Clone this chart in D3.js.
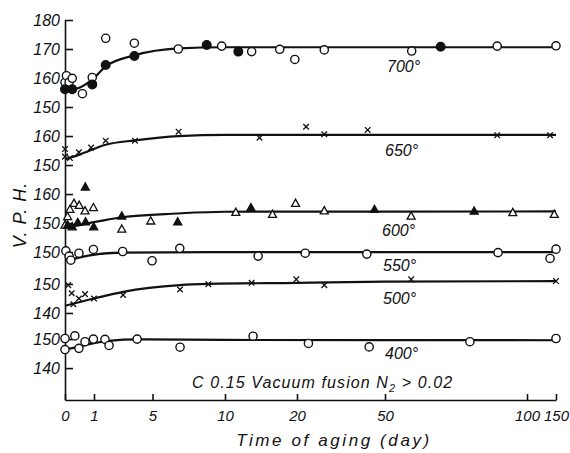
<!DOCTYPE html>
<html lang="en">
<head>
<meta charset="UTF-8">
<title>V.P.H. vs time of aging</title>
<style>
  body { margin: 0; background: #fff; }
  svg text { font-family: "Liberation Sans", Arial, sans-serif; font-style: italic; fill: #111; }
</style>
</head>
<body>
<script src="https://d3js.org/d3.v7.min.js"></script>
<script>
// x ticks (days) - axis is irregular in the original, so piecewise
let dayTicks = [0, 1, 5, 10, 20, 50, 100, 150];

// y tick labels per curve group and the shift that stacks each group
let groups = ["700°", "650°", "600°", "550°", "500°", "400°"];
let offsets = [0, -20, -40, -50, -61, -80];
let groupTicks = [[180, 170, 160, 150], [160, 150], [160, 150], [150], [150, 140], [150, 140]];

// measured points [day, V.P.H.]
let pts700open = [[0, 158.5], [0.05, 160.8], [0.14, 158.5], [0.25, 159.9], [0.6, 154.6], [0.94, 160.2],
  [1.8, 173.7], [3.76, 172], [6.78, 170], [9.77, 171], [13.7, 169.1], [17.6, 169.9], [19.7, 166.4],
  [29.3, 169.7], [59.4, 169.3], [89.5, 171], [150, 171.1]];
let pts700filled = [[0, 156.1], [0.25, 156.1], [0.94, 157.8], [1.8, 164.5], [3.76, 167.6], [8.74, 171.4], [11.85, 169.1], [69.6, 170.8]];
let pts650cross = [[0, 155.5], [0, 152.9], [0.17, 152.4], [0.48, 154.4], [0.9, 156], [1.8, 158.4], [3.8, 158.4],
  [6.8, 161.5], [14.8, 159.4], [23.1, 163.2], [29.3, 160.6], [44.1, 162.1], [89.5, 160.3], [139.7, 160.3]];
let pts600open = [[0, 149.3], [0.09, 152.2], [0.17, 154.7], [0.31, 156.8], [0.49, 156.1], [0.69, 154.2], [0.98, 155.3],
  [2.9, 147.9], [4.88, 150.7], [11.5, 153.7], [16.6, 153], [19.8, 156.8], [29.3, 154.2], [59.2, 152.4],
  [95, 153.6], [147, 153]];
let pts600filled = [[0.09, 149.3], [0.25, 148.7], [0.44, 150.2], [0.71, 150.4], [0.99, 148.7], [0.7, 162.4],
  [2.9, 152.4], [6.74, 150.4], [13.6, 155.3], [46.4, 154.7], [81.4, 154.1]];
let pts550open = [[0.03, 150.4], [0.14, 148.6], [0.2, 147.2], [0.48, 149.6], [0.98, 150.9], [2.96, 150.2],
  [4.97, 147], [6.88, 151.3], [14.6, 148.6], [22.8, 149.6], [43.8, 149.3], [89.8, 149.8], [150, 151], [139.7, 147.8]];
let pts500cross = [[0.11, 149.6], [0.23, 146.8], [0.29, 143], [0.48, 145], [0.69, 146.5], [1, 145], [2.99, 146.2],
  [6.9, 148.1], [8.85, 149.9], [13.7, 150.4], [19.9, 151.6], [29.3, 149.6], [59.2, 151.6], [150, 151]];
let pts400open = [[0, 150.2], [0.34, 151.1], [0, 146.4], [0.48, 146.8], [0.69, 149.1], [0.98, 150], [1.75, 149.9],
  [2.03, 147.8], [3.95, 150], [6.9, 147.2], [13.9, 151], [23.9, 148.5], [44.6, 147.3], [79.9, 149.1], [150, 150.2]];

// hand drawn trend curves [day, V.P.H.]
let curve700 = [[0, 156.6], [0.25, 156], [0.95, 159.5], [1.8, 164], [3.76, 167.8], [6.8, 170.2], [10, 170.6], [150, 170.6]];
let curve650 = [[0, 152], [0.5, 153.6], [1.8, 157], [3.8, 158.5], [6.8, 160], [10, 160.4], [150, 160.4]];
let curve600 = [[0, 149.9], [0.25, 149], [1, 150.3], [2.9, 152], [6.7, 153.3], [10, 153.9], [150, 154]];
let curve550 = [[0.12, 147.2], [0.8, 148.8], [2.9, 149.8], [9, 150], [150, 150]];
let curve500 = [[0, 142.5], [1, 145], [3, 147.3], [6.9, 149.6], [8.9, 150], [20, 150.4], [50, 150.8], [150, 151]];
let curve400 = [[0, 146.4], [0.5, 147.4], [1, 148.6], [2, 149.4], [4, 149.9], [10, 149.7], [150, 149.6]];

let svgWidth = 570;
let svgHeight = 453;

let svg = d3.select("body").append("svg")
  .attr("width", svgWidth)
  .attr("height", svgHeight);

let xScale = d3.scaleLinear()
  .domain(dayTicks)
  .range([65, 94, 152.5, 225, 297, 385, 527, 556]);

// stacked units: the 700° group reads directly, others are shifted by their offset
let yScale = d3.scaleLinear()
  .domain([49, 180])
  .range([400, 20]);

// y axis with every group's ticks
let yTickPos = [];
let yTickText = [];
groupTicks.forEach((ticks, i) => {
  ticks.forEach(t => { yTickPos.push(t + offsets[i]); yTickText.push(t); });
});

let yAxis = d3.axisLeft(yScale)
  .tickValues(yTickPos)
  .tickFormat((d, i) => yTickText[i])
  .tickSize(-8)
  .tickSizeOuter(0)
  .tickPadding(5);

let yG = svg.append("g")
  .attr("transform", "translate(65,0)")
  .call(yAxis);
yG.selectAll("text").style("font-size", "16px").attr("fill", "#111");

let xAxis = d3.axisBottom(xScale)
  .tickValues(dayTicks)
  .tickFormat(d => d)
  .tickSize(-6)
  .tickSizeOuter(0)
  .tickPadding(10);

let xG = svg.append("g")
  .attr("transform", "translate(0,400)")
  .call(xAxis);
xG.selectAll("text").style("font-size", "15px").attr("fill", "#111");

svg.selectAll(".domain, .tick line").attr("stroke", "#111").attr("stroke-width", 1.6);

// curves
let curves = [curve700, curve650, curve600, curve550, curve500, curve400];
curves.forEach((c, i) => {
  let line = d3.line()
    .x(d => xScale(d[0]))
    .y(d => yScale(d[1] + offsets[i]))
    .curve(d3.curveMonotoneX);
  svg.append("path")
    .datum(c)
    .attr("d", line)
    .attr("fill", "none")
    .attr("stroke", "#111")
    .attr("stroke-width", 2.2);
});

// markers
function circles(data, off, filled) {
  svg.append("g").selectAll("circle")
    .data(data)
    .enter()
    .append("circle")
    .attr("cx", d => xScale(d[0]))
    .attr("cy", d => yScale(d[1] + off))
    .attr("r", filled ? 4.3 : 4.1)
    .attr("fill", filled ? "#111" : "#fff")
    .attr("stroke", "#111")
    .attr("stroke-width", 1.4);
}

function crosses(data, off) {
  let s = 2.8;
  svg.append("g").selectAll("path")
    .data(data)
    .enter()
    .append("path")
    .attr("transform", d => `translate(${xScale(d[0])},${yScale(d[1] + off)})`)
    .attr("d", `M${-s},${-s}L${s},${s}M${-s},${s}L${s},${-s}`)
    .attr("stroke", "#111")
    .attr("stroke-width", 1.3);
}

function triangles(data, off, filled) {
  svg.append("g").selectAll("path")
    .data(data)
    .enter()
    .append("path")
    .attr("transform", d => `translate(${xScale(d[0])},${yScale(d[1] + off)})`)
    .attr("d", "M0,-4.2L4,3L-4,3Z")
    .attr("fill", filled ? "#111" : "#fff")
    .attr("stroke", "#111")
    .attr("stroke-width", 1.3);
}

circles(pts700open, offsets[0], false);
circles(pts700filled, offsets[0], true);
crosses(pts650cross, offsets[1]);
triangles(pts600open, offsets[2], false);
triangles(pts600filled, offsets[2], true);
circles(pts550open, offsets[3], false);
crosses(pts500cross, offsets[4]);
circles(pts400open, offsets[5], false);

// temperature labels
let labelY = [72, 156, 236, 271, 304, 359];
let labelX = [387, 385, 382, 383, 383, 385];
svg.append("g").selectAll("text")
  .data(groups)
  .enter()
  .append("text")
  .attr("x", (d, i) => labelX[i])
  .attr("y", (d, i) => labelY[i])
  .style("font-size", "16px")
  .text(d => d);

// annotation
let note = svg.append("text")
  .attr("x", 192)
  .attr("y", 388)
  .style("font-size", "16px")
  .style("letter-spacing", "1.1px");
note.append("tspan").text("C 0.15  Vacuum fusion  N");
note.append("tspan").attr("dy", 4).style("font-size", "11px").text("2");
note.append("tspan").attr("dy", -4).text(" > 0.02");

// axis titles
svg.append("text")
  .attr("x", 334)
  .attr("y", 446)
  .attr("text-anchor", "middle")
  .style("font-size", "17px")
  .style("letter-spacing", "2.6px")
  .text("Time of aging (day)");

svg.append("text")
  .attr("transform", "translate(26,215) rotate(-90)")
  .attr("text-anchor", "middle")
  .style("font-size", "18px")
  .style("letter-spacing", "1px")
  .text("V. P. H.");
</script>
</body>
</html>
